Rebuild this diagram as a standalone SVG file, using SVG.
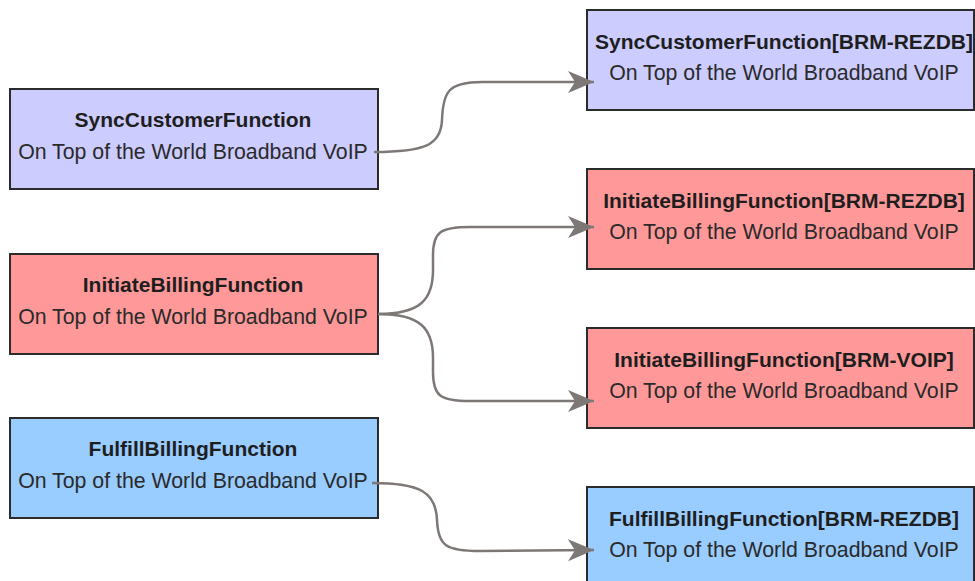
<svg xmlns="http://www.w3.org/2000/svg" width="975" height="581" viewBox="0 0 975 581">
<style>
.box{stroke:#2b2b2b;stroke-width:2}
.purple{fill:#ccccff}
.red{fill:#ff9999}
.blue{fill:#99ccff}
.t{font-family:"Liberation Sans",Arial,sans-serif;font-size:21px;font-weight:bold;fill:#1e1e1e;text-anchor:middle}
.s{font-family:"Liberation Sans",Arial,sans-serif;font-size:21.3px;fill:#2a2a2a;text-anchor:middle}
.c{fill:none;stroke:#7d7876;stroke-width:2.5;marker-end:url(#arr)}
</style>
<defs>
<marker id="arr" markerUnits="userSpaceOnUse" markerWidth="30" markerHeight="24" refX="26" refY="11" orient="auto">
<path d="M0,0 L26,11 L0,22 L7,11 Z" fill="#7d7876"/>
</marker>
</defs>
<rect width="975" height="581" fill="#ffffff"/>
<g id="n-sync">
<rect class="box purple" x="10" y="89" width="368" height="100"/>
<text class="t" x="193" y="127">SyncCustomerFunction</text>
<text class="s" x="193" y="159">On Top of the World Broadband VoIP</text>
</g>
<g id="n-init">
<rect class="box red" x="10" y="254" width="368" height="100"/>
<text class="t" x="193" y="292">InitiateBillingFunction</text>
<text class="s" x="193" y="324">On Top of the World Broadband VoIP</text>
</g>
<g id="n-fulfill">
<rect class="box blue" x="10" y="418" width="368" height="100"/>
<text class="t" x="193" y="456">FulfillBillingFunction</text>
<text class="s" x="193" y="488">On Top of the World Broadband VoIP</text>
</g>
<g id="n-sync-rezdb">
<rect class="box purple" x="587" y="10" width="387" height="100"/>
<text class="t" x="784" y="49">SyncCustomerFunction[BRM-REZDB]</text>
<text class="s" x="784" y="80">On Top of the World Broadband VoIP</text>
</g>
<g id="n-init-rezdb">
<rect class="box red" x="587" y="169" width="387" height="100"/>
<text class="t" x="784" y="208">InitiateBillingFunction[BRM-REZDB]</text>
<text class="s" x="784" y="239">On Top of the World Broadband VoIP</text>
</g>
<g id="n-init-voip">
<rect class="box red" x="587" y="328" width="387" height="100"/>
<text class="t" x="784" y="367">InitiateBillingFunction[BRM-VOIP]</text>
<text class="s" x="784" y="398">On Top of the World Broadband VoIP</text>
</g>
<g id="n-fulfill-rezdb">
<rect class="box blue" x="587" y="487" width="387" height="100"/>
<text class="t" x="784" y="526">FulfillBillingFunction[BRM-REZDB]</text>
<text class="s" x="784" y="557">On Top of the World Broadband VoIP</text>
</g>
<g id="connectors">
<path class="c" d="M374,152 C425,152 441,145 442,120 C443,92 448,82 482,82 L594,82"/>
<path class="c" d="M378,314 C420,314 433,300 433,270 L433,255 C433,232 440,227 470,227 L594,227"/>
<path class="c" d="M378,314 C420,314 433,328 433,358 L433,372 C433,396 440,401 470,401 L594,401"/>
<path class="c" d="M372,483 C420,483 436,492 437,520 C438,546 446,551 480,551 L594,550"/>
</g>
</svg>
